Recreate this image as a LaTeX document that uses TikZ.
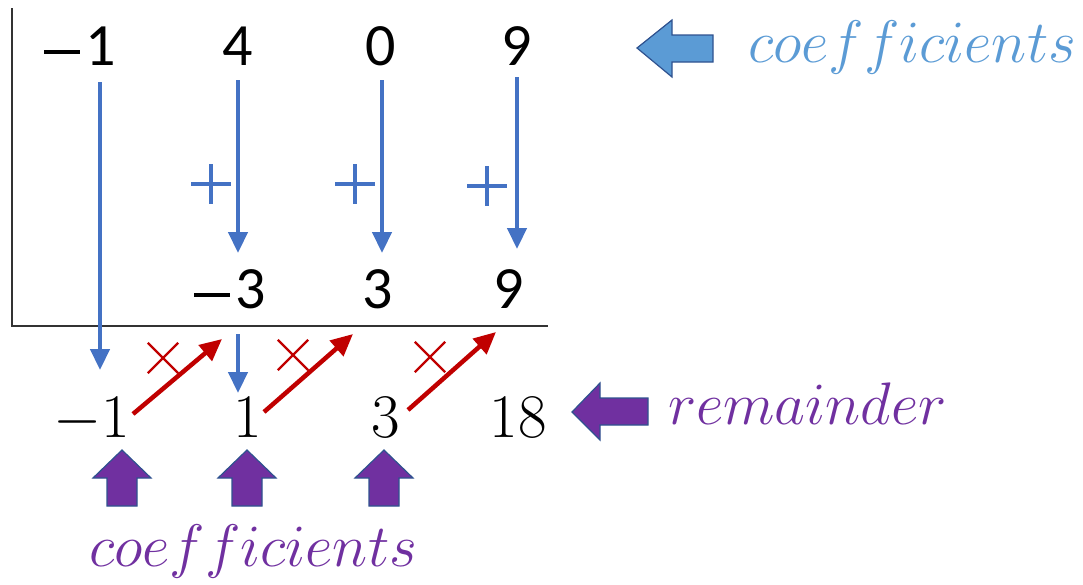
\RequirePackage{fix-cm}
\documentclass[tikz,border=0pt]{standalone}
\usepackage{fontspec}
\newfontfamily\calib{Carlito}
\usetikzlibrary{arrows.meta,shapes.misc}
\definecolor{ablue}{HTML}{4472C4}
\definecolor{lblue}{HTML}{5B9BD5}
\definecolor{ared}{HTML}{C00000}
\definecolor{apurple}{HTML}{7030A0}
\definecolor{aborder}{HTML}{2F528F}
\newcommand{\sminus}{\rule[11pt]{36pt}{3.6pt}\hspace{5pt}}
\tikzset{
  topnum/.style={inner sep=0pt, anchor=base, font=\calib\fontsize{60}{60}\selectfont},
  botnum/.style={inner sep=0pt, anchor=base, font=\rmfamily\fontsize{62}{62}\selectfont},
  plussign/.style={cross out, rotate=45, draw=ablue, line width=3.2pt, minimum size=25pt, inner sep=0pt},
  timessign/.style={cross out, draw=ared, line width=2.4pt, minimum size=28pt, inner sep=0pt},
  downarr/.style={draw=ablue, line width=4.5pt, -{Triangle[width=19pt,length=21pt]}},
  mularr/.style={draw=ared, line width=4.5pt, -{Triangle[width=20pt,length=22pt]}},
  label/.style={inner sep=0pt, anchor=base west, font=\fontsize{60}{60}\selectfont},
  blockarr/.style={line width=1.2pt, draw=aborder, line join=miter},
}
\begin{document}
\begin{tikzpicture}[x=1pt,y=-1pt]
\useasboundingbox (0,0) rectangle (1083,584);
% frame lines
\draw[line width=1.2pt, black!80] (12,8) -- (12,326) -- (548,326);
% top row
\node[topnum] (a1) at (80,65) {\sminus 1};
\node[topnum] (a2) at (238,65) {4};
\node[topnum] (a3) at (381,65) {0};
\node[topnum] (a4) at (517,65) {9};
% middle row
\node[topnum] (m2) at (230,308) {\sminus 3};
\node[topnum] (m3) at (378,308) {3};
\node[topnum] (m4) at (509,308) {9};
% bottom row
\node[botnum] (b1) at (92,437) {$-$1};
\node[botnum] (b2) at (248,437) {1};
\node[botnum] (b3) at (386,437) {3};
\node[botnum] (b4) at (518,437) {18};
% plus signs
\node[plussign] (p2) at (211,184) {};
\node[plussign] (p3) at (355,184) {};
\node[plussign] (p4) at (487,186) {};
% times signs
\node[timessign] (t1) at (163,358) {};
\node[timessign] (t2) at (293,355) {};
\node[timessign] (t3) at (430,357) {};
% coordinates for arrows
\coordinate (d1s) at (100,82);  \coordinate (d1e) at (100,370);
\coordinate (d2s) at (238,80);  \coordinate (d2e) at (238,253);
\coordinate (d3s) at (382,80);  \coordinate (d3e) at (382,253);
\coordinate (d4s) at (517,77);  \coordinate (d4e) at (517,249);
\coordinate (d5s) at (238,334); \coordinate (d5e) at (238,393);
\draw[downarr] (d1s) -- (d1e);
\draw[downarr] (d2s) -- (d2e);
\draw[downarr] (d3s) -- (d3e);
\draw[downarr] (d4s) -- (d4e);
\draw[downarr] (d5s) -- (d5e);
\coordinate (r1s) at (133,414); \coordinate (r1e) at (222,339);
\coordinate (r2s) at (264,412); \coordinate (r2e) at (353,334);
\coordinate (r3s) at (408,410); \coordinate (r3e) at (496,332);
\draw[mularr] (r1s) -- (r1e);
\draw[mularr] (r2s) -- (r2e);
\draw[mularr] (r3s) -- (r3e);
% left block arrow (blue)
\draw[blockarr, fill=lblue] (637,48) -- (672,20) -- (672,35) -- (713,35) -- (713,62) -- (672,62) -- (672,77) -- cycle;
\node[label, text=lblue] (lc) at (748,62) {$coefficients$};
% left block arrow (purple)
\draw[blockarr, fill=apurple] (572,412) -- (600,383) -- (600,398) -- (648,398) -- (648,425) -- (600,425) -- (600,440) -- cycle;
\node[label, text=apurple] (lr) at (668,424) {$remainder$};
% up arrows
\foreach \cx in {122,247,384}{
  \draw[blockarr, fill=apurple] (\cx,450) -- (\cx+29,478) -- (\cx+15,478) -- (\cx+15,506) -- (\cx-15,506) -- (\cx-15,478) -- (\cx-29,478) -- cycle;
}
\node[label, text=apurple] (lb) at (89,566) {$coefficients$};
\end{tikzpicture}
\end{document}
